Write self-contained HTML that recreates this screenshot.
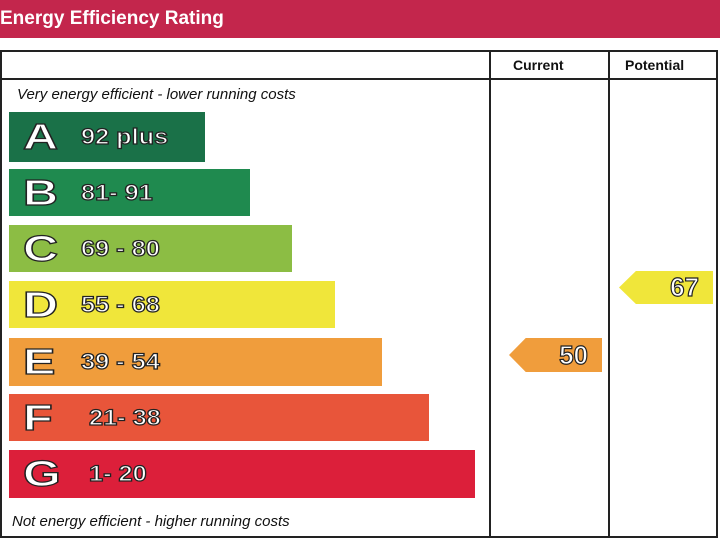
<html><head><style>
body{margin:0;width:720px;height:540px;background:#fff;position:relative;overflow:hidden;font-family:"Liberation Sans",sans-serif}
.hd{position:absolute;left:0;top:0;width:720px;height:38px;background:#c3264c;color:#fff;font-weight:bold;font-size:19px;line-height:38px;padding-left:0}
.ln{position:absolute;background:#222}
.t{position:absolute;font-size:15px;color:#111}
.bar{position:absolute;left:9px;color:#fff;font-weight:bold;-webkit-text-stroke:1.2px #222;white-space:nowrap}
.bar b{position:absolute;left:14px;font-size:36px;top:50%;transform:translateY(-50%) scaleX(1.35);transform-origin:left center}
.bar span{position:absolute;left:72px;font-size:22px;top:50%;transform:translateY(-50%) scaleX(1.15);transform-origin:left center}
.ar{position:absolute;color:#fff;font-weight:bold;font-size:26px;-webkit-text-stroke:1.2px #222;text-align:right;padding-right:14px;box-sizing:border-box;clip-path:polygon(0 50%,18% 0,100% 0,100% 100%,18% 100%)}
</style></head><body>
<div class="hd">Energy Efficiency Rating</div>
<div class="ln" style="left:0;top:50px;width:718px;height:2px"></div>
<div class="ln" style="left:0;top:78px;width:718px;height:2px"></div>
<div class="ln" style="left:0;top:536px;width:718px;height:2px"></div>
<div class="ln" style="left:0;top:50px;width:2px;height:488px"></div>
<div class="ln" style="left:489px;top:50px;width:2px;height:488px"></div>
<div class="ln" style="left:608px;top:50px;width:2px;height:488px"></div>
<div class="ln" style="left:716px;top:50px;width:2px;height:488px"></div>
<div class="t" style="left:513px;top:57px;font-weight:bold;font-size:14px">Current</div>
<div class="t" style="left:625px;top:57px;font-weight:bold;font-size:14px">Potential</div>
<div class="t" style="left:17px;top:86px;font-style:italic">Very energy efficient - lower running costs</div>
<div class="t" style="left:12px;top:513px;font-style:italic">Not energy efficient - higher running costs</div>
<div class="bar" style="top:112px;width:196px;height:50px;background:#1a7148"><b>A</b><span>92 plus</span></div>
<div class="bar" style="top:169px;width:241px;height:47px;background:#1f8a4f"><b>B</b><span>81- 91</span></div>
<div class="bar" style="top:225px;width:283px;height:47px;background:#8cbd44"><b>C</b><span>69 - 80</span></div>
<div class="bar" style="top:281px;width:326px;height:47px;background:#f0e63a"><b>D</b><span>55 - 68</span></div>
<div class="bar" style="top:338px;width:373px;height:48px;background:#f09d3c"><b>E</b><span>39 - 54</span></div>
<div class="bar" style="top:394px;width:420px;height:47px;background:#e8553a"><b>F</b><span style="left:80px">21- 38</span></div>
<div class="bar" style="top:450px;width:466px;height:48px;background:#dc1f3a"><b>G</b><span style="left:80px">1- 20</span></div>
<div class="ar" style="left:509px;top:338px;width:93px;height:34px;line-height:34px;background:#f09d3c">50</div>
<div class="ar" style="left:619px;top:271px;width:94px;height:33px;line-height:33px;background:#f0e63a">67</div>
</body></html>
